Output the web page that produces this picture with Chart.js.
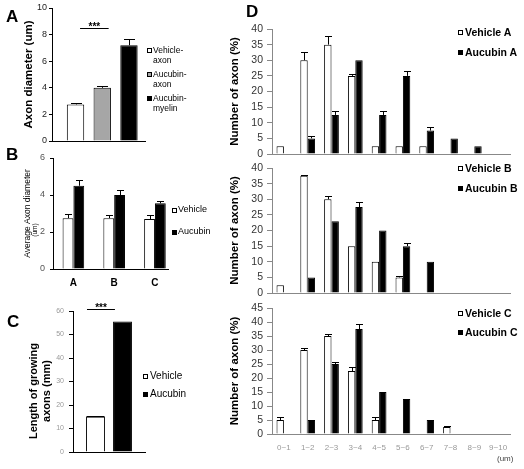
<!DOCTYPE html>
<html><head><meta charset="utf-8">
<script src="https://cdn.jsdelivr.net/npm/chart.js@4.4.0/dist/chart.umd.min.js"></script>
<style>
html,body{margin:0;padding:0;background:#fff;}
#wrap{position:relative;width:524px;height:469px;overflow:hidden;font-family:"Liberation Sans",Arial,sans-serif;background:#fff;}
canvas{position:absolute;left:0;top:0;}
.t{position:absolute;white-space:pre;color:#000;line-height:1;}
</style></head><body>
<div id="wrap">
<canvas id="cA" width="524" height="469"></canvas>
<canvas id="cB" width="524" height="469"></canvas>
<canvas id="cC" width="524" height="469"></canvas>
<canvas id="cDA" width="524" height="469"></canvas>
<canvas id="cDB" width="524" height="469"></canvas>
<canvas id="cDC" width="524" height="469"></canvas>
</div>
<script>
// ---------- DATA ----------
const groupsA = ['Vehicle-axon', 'Aucubin-axon', 'Aucubin-myelin'];
const valuesA = [2.75, 4.0, 7.2];
const errorsA = [0.08, 0.15, 0.5];

const groupsB = ['A', 'B', 'C'];
const seriesB = ['Vehicle', 'Aucubin'];
const vehicleB = [2.75, 2.75, 2.7];
const vehicleErrB = [0.2, 0.15, 0.2];
const aucubinB = [4.5, 4.0, 3.55];
const aucubinErrB = [0.3, 0.25, 0.15];

const groupsC = ['Vehicle', 'Aucubin'];
const valuesC = [15, 55.5];
const errorsC = [0.3, 0];

const bins = ['0~1', '1~2', '2~3', '3~4', '4~5', '5~6', '6~7', '7~8', '8~9', '9~10'];
const seriesDA = ['Vehicle A', 'Aucubin A'];
const vehicleDA = [2.5, 30, 35, 25, 2.5, 2.5, 2.5, 0, 0, 0];
const vehicleErrDA = [0, 2.8, 2.8, 0.5, 0, 0, 0, 0, 0, 0];
const aucubinDA = [0, 5, 12.5, 30, 12.5, 25, 7.5, 5, 2.5, 0];
const aucubinErrDA = [0, 0.7, 1.3, 0, 1.3, 1.7, 1.3, 0, 0, 0];

const seriesDB = ['Vehicle B', 'Aucubin B'];
const vehicleDB = [2.5, 37.5, 30, 15, 10, 5, 0, 0, 0, 0];
const vehicleErrDB = [0, 0.3, 1, 0, 0, 0.6, 0, 0, 0, 0];
const aucubinDB = [0, 5, 23, 27.5, 20, 15, 10, 0, 0, 0];
const aucubinErrDB = [0, 0, 0, 1.5, 0, 1, 0, 0, 0, 0];

const seriesDC = ['Vehicle C', 'Aucubin C'];
const vehicleDC = [5, 30, 35, 22.5, 5, 0, 0, 2.5, 0, 0];
const vehicleErrDC = [1, 0.7, 0.7, 1.4, 1, 0, 0, 0.3, 0, 0];
const aucubinDC = [0, 5, 25, 37.5, 15, 12.5, 5, 0, 0, 0];
const aucubinErrDC = [0, 0, 0.7, 1.8, 0, 0, 0, 0, 0, 0];

const sigMark = '***';

// ---------- SETUP ----------
Chart.defaults.font.family = '"Liberation Sans", Arial, sans-serif';
Chart.defaults.color = '#000';
const W = 524, H = 469;
const wrap = document.getElementById('wrap');

const errorBarsPlugin = {
  id: 'errorBars',
  afterDatasetsDraw(chart, args, opts) {
    const ctx = chart.ctx, ys = chart.scales.y;
    chart.data.datasets.forEach((ds, i) => {
      if (!ds.errors) return;
      const meta = chart.getDatasetMeta(i);
      meta.data.forEach((bar, j) => {
        const e = ds.errors[j];
        if (!e) return;
        const raw = ds.data[j];
        const v = (raw && typeof raw === 'object') ? raw.y : raw;
        const yTop = Math.round(ys.getPixelForValue(v + e)) + 0.5;
        const x = Math.round(bar.x) + 0.5;
        const half = (opts.cap || 6) / 2;
        ctx.save();
        ctx.strokeStyle = '#000';
        ctx.lineWidth = 1;
        ctx.beginPath();
        ctx.moveTo(x, bar.y);
        ctx.lineTo(x, yTop);
        ctx.moveTo(x - half, yTop);
        ctx.lineTo(x + half, yTop);
        ctx.stroke();
        ctx.restore();
      });
    });
  }
};

const sigPlugin = {
  id: 'sig',
  afterDraw(chart, args, opts) {
    if (opts.from === undefined) return;
    const ctx = chart.ctx, xs = chart.scales.x, ys = chart.scales.y;
    const x1 = xs.getPixelForValue(opts.from), x2 = xs.getPixelForValue(opts.to);
    const y = Math.round(ys.getPixelForValue(opts.y)) + 0.5;
    ctx.save();
    ctx.strokeStyle = '#000';
    ctx.lineWidth = 1;
    ctx.beginPath();
    ctx.moveTo(x1, y);
    ctx.lineTo(x2, y);
    ctx.stroke();
    ctx.fillStyle = '#000';
    ctx.font = 'bold 10px "Liberation Sans", Arial, sans-serif';
    ctx.textAlign = 'center';
    ctx.textBaseline = 'alphabetic';
    ctx.fillText(opts.text, (x1 + x2) / 2, y + 1.5);
    ctx.restore();
  }
};

function mkChart(id, cfg) {
  const a = cfg.area, yW = cfg.yWidth, xH = cfg.xHeight;
  const x = Object.assign({}, cfg.x, {afterFit(s) { s.height = xH; }});
  const y = Object.assign({}, cfg.y, {afterFit(s) { s.width = yW; }});
  return new Chart(document.getElementById(id), {
    type: 'bar',
    data: cfg.data,
    plugins: [errorBarsPlugin, sigPlugin],
    options: {
      responsive: false, animation: false, events: [], devicePixelRatio: 1,
      layout: {padding: {left: a.left - yW, top: a.top, right: W - a.right, bottom: H - a.bottom - xH}},
      plugins: {legend: {display: false}, tooltip: {enabled: false},
        errorBars: {cap: cfg.cap}, sig: cfg.sig || {}},
      scales: {x: x, y: y}
    }
  });
}

function fixedTicks(n) {
  return function (s) { s.ticks = Array.from({length: n}, (_, i) => ({value: i + 1})); };
}

function yAxis(max, step, o) {
  return {
    min: 0, max: max,
    ticks: {stepSize: step, font: {size: o.size}, color: o.color, padding: o.pad, autoSkip: false},
    grid: {drawOnChartArea: false, drawTicks: true, tickLength: o.tl, color: o.line},
    border: {color: o.line, width: 1},
    title: o.title ? {display: true, text: o.title, font: {size: o.tsize, weight: o.tweight}, color: '#000', padding: 0} : {display: false}
  };
}

// ---------- PANEL A ----------
mkChart('cA', {
  area: {left: 52, top: 8, right: 145, bottom: 141}, yWidth: 30, xHeight: 4, cap: 11,
  data: {datasets: [{
    data: valuesA.map((v, i) => ({x: i + 1, y: v})), errors: errorsA,
    backgroundColor: ['#ffffff', '#a6a6a6', '#000000'], borderColor: '#000', borderWidth: 1,
    barPercentage: 1, categoryPercentage: 0.65
  }]},
  x: {type: 'linear', offset: false, bounds: 'data', min: 0.12, max: 3.6, afterBuildTicks: fixedTicks(groupsA.length),
      ticks: {display: false}, grid: {display: false, offset: false}, border: {color: '#000'}},
  y: yAxis(10, 2, {size: 9, color: '#222', pad: 2, tl: 3, line: '#000', title: 'Axon diameter (um)', tsize: 11.5, tweight: 'bold'}),
  sig: {from: 1.17, to: 2.24, y: 8.47, text: sigMark}
});

// ---------- PANEL B ----------
mkChart('cB', {
  area: {left: 53, top: 158, right: 168, bottom: 269}, yWidth: 30, xHeight: 25, cap: 7,
  data: {datasets: [
    {label: seriesB[0], data: vehicleB.map((v, i) => ({x: i + 1, y: v})), errors: vehicleErrB,
     backgroundColor: '#fff', borderColor: '#000', borderWidth: 1, barPercentage: 1, categoryPercentage: 0.53},
    {label: seriesB[1], data: aucubinB.map((v, i) => ({x: i + 1, y: v})), errors: aucubinErrB,
     backgroundColor: '#000', borderColor: '#000', borderWidth: 1, barPercentage: 1, categoryPercentage: 0.53}
  ]},
  x: {type: 'linear', offset: false, bounds: 'data', min: 0.5, max: 3.32, afterBuildTicks: fixedTicks(groupsB.length),
      ticks: {callback: (v) => groupsB[v - 1], font: {size: 10, weight: 'bold'}, color: '#000', padding: 0, maxRotation: 0},
      grid: {display: false, offset: false}, border: {color: '#000'}},
  y: yAxis(6, 2, {size: 9, color: '#555', pad: 5, tl: 3, line: '#000', title: 'Average Axon diameter', tsize: 8.5, tweight: 'normal'})
});

// ---------- PANEL C ----------
mkChart('cC', {
  area: {left: 73, top: 311, right: 145, bottom: 452}, yWidth: 30, xHeight: 4, cap: 18,
  data: {datasets: [{
    data: valuesC.map((v, i) => ({x: i + 1, y: v})), errors: errorsC,
    backgroundColor: ['#ffffff', '#000000'], borderColor: '#000', borderWidth: 1,
    barPercentage: 1, categoryPercentage: 0.7
  }]},
  x: {type: 'linear', offset: false, bounds: 'data', min: 0.167, max: 2.833, afterBuildTicks: fixedTicks(groupsC.length),
      ticks: {display: false}, grid: {display: false, offset: false}, border: {color: '#000'}},
  y: yAxis(60, 10, {size: 7, color: '#999', pad: 5, tl: 4, line: '#000'}),
  sig: {from: 0.685, to: 1.72, y: 60.7, text: sigMark}
});

// ---------- PANEL D ----------
function dChart(id, area, max, veh, vehErr, auc, aucErr, names, showX) {
  return mkChart(id, {
    area: area, yWidth: 44, xHeight: showX ? 20 : 2, cap: 7,
    data: {labels: bins, datasets: [
      {label: names[0], data: veh, errors: vehErr, backgroundColor: '#fff', borderColor: '#000', borderWidth: 1,
       barPercentage: 1, categoryPercentage: 0.62},
      {label: names[1], data: auc, errors: aucErr, backgroundColor: '#000', borderColor: '#000', borderWidth: 1,
       barPercentage: 1, categoryPercentage: 0.62}
    ]},
    x: {type: 'category', ticks: {display: showX, font: {size: 8}, color: '#999', padding: 1, maxRotation: 0, minRotation: 0, autoSkip: false},
        grid: {display: false}, border: {color: '#888'}},
    y: yAxis(max, 5, {size: 10.5, color: '#333', pad: 4, tl: 5, line: '#888', title: 'Number of axon (%)', tsize: 11.5, tweight: 'bold'})
  });
}
dChart('cDA', {left: 272, top: 29, right: 510, bottom: 154}, 40, vehicleDA, vehicleErrDA, aucubinDA, aucubinErrDA, seriesDA, false);
dChart('cDB', {left: 272, top: 168, right: 510, bottom: 293}, 40, vehicleDB, vehicleErrDB, aucubinDB, aucubinErrDB, seriesDB, false);
dChart('cDC', {left: 272, top: 308, right: 510, bottom: 434}, 45, vehicleDC, vehicleErrDC, aucubinDC, aucubinErrDC, seriesDC, true);

// ---------- TEXT / LEGENDS ----------
function addText(x, yc, str, size, weight, color, lh) {
  const d = document.createElement('div');
  d.className = 't';
  d.textContent = str;
  d.style.left = x + 'px';
  d.style.top = (yc - 0.52 * size) + 'px';
  d.style.fontSize = size + 'px';
  d.style.fontWeight = weight || 'normal';
  d.style.color = color || '#000';
  if (lh) d.style.lineHeight = lh + 'px';
  wrap.appendChild(d);
  return d;
}
function addBox(x, yc, size, fill) {
  const b = document.createElement('div');
  b.style.cssText = 'position:absolute;box-sizing:border-box;border:1px solid #000;left:' + x + 'px;top:' + Math.round(yc - size / 2) +
    'px;width:' + size + 'px;height:' + size + 'px;background:' + fill;
  wrap.appendChild(b);
}
function addRot(cx, cy, str, size, weight, lh, color) {
  const d = document.createElement('div');
  d.className = 't';
  d.textContent = str;
  d.style.fontSize = size + 'px';
  d.style.fontWeight = weight;
  d.style.lineHeight = lh + 'px';
  d.style.textAlign = 'center';
  d.style.color = color || '#000';
  wrap.appendChild(d);
  const w = d.offsetWidth, h = d.offsetHeight;
  d.style.left = (cx - w / 2) + 'px';
  d.style.top = (cy - h / 2) + 'px';
  d.style.transform = 'rotate(-90deg)';
}

// panel letters
addText(6, 17, 'A', 17, 'bold');
addText(6, 155, 'B', 17, 'bold');
addText(7, 322, 'C', 17, 'bold');
addText(246, 12, 'D', 17, 'bold');

// legend A
const fillsA = ['#fff', '#a6a6a6', '#000'];
const legA_y = [50, 74, 98];
groupsA.forEach((g, i) => {
  addBox(147, legA_y[i], 5, fillsA[i]);
  const d = addText(153, legA_y[i], g.replace('-', '-\n'), 8.5, 'normal', '#000', 10.5);
  d.style.top = (legA_y[i] - 5.5) + 'px';
});

// legend B
addBox(172, 210, 5, '#fff'); addText(178, 210, seriesB[0], 9);
addBox(172, 232, 5, '#000'); addText(178, 232, seriesB[1], 9);
addRot(34, 230, '(um)', 6.5, 'normal', 8);

// legend C + title
addBox(143, 376, 5, '#fff'); addText(150, 376, groupsC[0], 10);
addBox(143, 394, 5, '#000'); addText(150, 394, groupsC[1], 10);
addRot(39.5, 391, 'Length of growing\naxons (mm)', 11, 'bold', 13);

// legends D
[[seriesDA, 32, 52], [seriesDB, 168, 188], [seriesDC, 313, 332]].forEach(([names, y1, y2]) => {
  addBox(458, y1, 5, '#fff'); addText(465, y1, names[0], 10.5, 'bold');
  addBox(458, y2, 5, '#000'); addText(465, y2, names[1], 10.5, 'bold');
});
addText(497, 459, '(um)', 8, 'normal', '#444');
</script>
</body></html>
